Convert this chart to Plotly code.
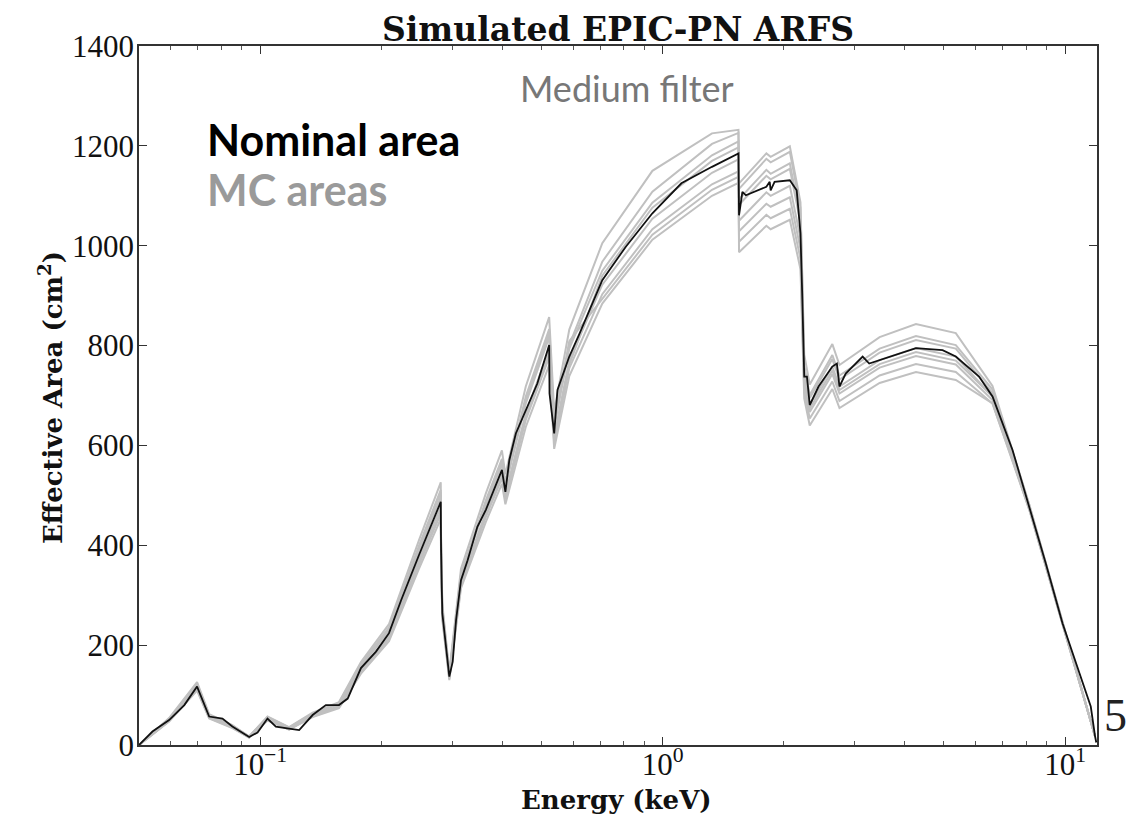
import plotly.graph_objects as go

# ---------------- data ----------------
energy_nominal = [0.050, 0.054, 0.0594, 0.0648, 0.0697, 0.0747, 0.0806, 0.0853, 0.0939, 0.0985,
                  0.1043, 0.1094, 0.118, 0.125, 0.135, 0.1456, 0.157, 0.165, 0.178, 0.194,
                  0.209, 0.224, 0.248, 0.265, 0.281, 0.2815, 0.2835, 0.2951, 0.3009, 0.3067,
                  0.3155, 0.3277, 0.3465, 0.3637, 0.3814, 0.3987, 0.4067, 0.4160, 0.4318, 0.4570,
                  0.4882, 0.5225, 0.5235, 0.5377, 0.5479, 0.5862, 0.620, 0.708, 0.810, 0.943,
                  1.113, 1.326, 1.543, 1.548, 1.578, 1.610, 1.810, 1.845, 1.855, 1.897,
                  2.070, 2.153, 2.200, 2.224, 2.248, 2.283, 2.320, 2.440, 2.640, 2.710,
                  2.750, 2.850, 3.140, 3.260, 3.460, 3.870, 4.260, 4.960, 5.350, 6.110,
                  6.600, 7.400, 8.140, 8.950, 9.850, 10.83, 11.58, 11.87, 11.95]
area_nominal = [0, 27, 50, 80, 117, 57, 53, 37, 16, 25,
                53, 37, 33, 30, 60, 80, 80, 93, 154, 187,
                224, 290, 380, 435, 487, 390, 264, 137, 167, 250,
                330, 370, 437, 471, 511, 551, 507, 571, 624, 671,
                724, 801, 704, 624, 711, 778, 822, 931, 998, 1065,
                1125, 1158, 1185, 1061, 1108, 1101, 1118, 1128, 1111, 1128,
                1131, 1111, 1025, 892, 738, 738, 681, 718, 758, 764,
                718, 744, 778, 764, 771, 785, 795, 791, 778, 738,
                698, 591, 477, 364, 244, 144, 77, 17, 5]

energy_mc = [0.050, 0.0594, 0.0697, 0.0747, 0.0853, 0.0939, 0.1043, 0.118, 0.135, 0.157,
             0.178, 0.209, 0.248, 0.281, 0.2815, 0.2835, 0.2951, 0.3155, 0.3637, 0.3987,
             0.4067, 0.4570, 0.5225, 0.5377, 0.5862, 0.708, 0.943, 1.326, 1.543, 1.548,
             1.810, 1.855, 2.070, 2.200, 2.248, 2.320, 2.640, 2.750, 3.460, 4.260,
             5.350, 6.600, 8.140, 9.850, 11.87]
mc_area_1 = [0, 54, 126, 62, 40, 17, 57, 36, 65, 86, 166, 242, 410, 526, 417, 282, 147, 353, 504, 590,
             542, 718, 857, 668, 832, 1005, 1150, 1225, 1232, 1114, 1174, 1167, 1188, 1076, 782, 722, 803, 761, 817, 843,
             825, 719, 482, 246, 17]
mc_area_2 = [0, 52, 122, 59, 38, 17, 55, 34, 62, 83, 160, 233, 395, 506, 402, 272, 141, 340, 485, 568,
             522, 691, 825, 643, 801, 968, 1108, 1204, 1226, 1125, 1185, 1178, 1199, 1087, 760, 701, 781, 740, 794, 819,
             801, 712, 482, 246, 17]
mc_area_3 = [0, 51, 119, 58, 38, 16, 54, 34, 61, 82, 157, 228, 388, 497, 398, 269, 140, 337, 480, 562,
             517, 684, 817, 636, 794, 950, 1086, 1181, 1209, 1082, 1140, 1133, 1154, 1046, 753, 695, 773, 732, 786, 811,
             794, 705, 477, 244, 17]
mc_area_4 = [0, 49, 115, 56, 36, 16, 52, 32, 59, 78, 151, 220, 372, 477, 386, 261, 136, 327, 466, 545,
             502, 664, 793, 618, 770, 922, 1054, 1146, 1173, 1050, 1107, 1100, 1120, 1015, 738, 681, 758, 718, 771, 795,
             778, 698, 477, 244, 17]
mc_area_5 = [0, 48, 112, 55, 36, 15, 51, 32, 58, 77, 148, 215, 365, 468, 378, 256, 133, 320, 457, 534,
             492, 651, 777, 605, 755, 903, 1033, 1123, 1149, 1029, 1084, 1078, 1097, 994, 723, 667, 743, 704, 756, 779,
             762, 691, 472, 242, 17]
mc_area_6 = [0, 47, 109, 53, 34, 15, 49, 31, 56, 74, 143, 208, 353, 453, 371, 251, 130, 314, 447, 523,
             482, 637, 761, 593, 739, 884, 1012, 1100, 1126, 1008, 1062, 1055, 1074, 974, 708, 654, 728, 689, 740, 763,
             747, 684, 472, 242, 17]
mc_area_7 = [0, 53, 123, 60, 39, 17, 56, 35, 63, 84, 162, 235, 399, 511, 382, 259, 134, 323, 462, 540,
             497, 658, 785, 612, 762, 940, 1076, 1170, 1197, 987, 1040, 1033, 1052, 953, 694, 640, 713, 675, 725, 747,
             731, 684, 475, 243, 17]
mc_area_8 = [0, 48, 111, 54, 35, 15, 50, 31, 57, 76, 146, 213, 361, 463, 406, 275, 142, 343, 490, 573,
             527, 698, 833, 649, 809, 894, 1022, 1112, 1138, 1093, 1152, 1144, 1165, 1056, 731, 674, 750, 711, 763, 787,
             770, 698, 477, 244, 17]
mc_areas = [mc_area_1, mc_area_2, mc_area_3, mc_area_4, mc_area_5, mc_area_6, mc_area_7, mc_area_8]

x_major_ticks = [0.1, 1, 10]
x_major_labels = ["10<sup>\u22121</sup>", "10<sup>0</sup>", "10<sup>1</sup>"]
x_minor_ticks = [0.06, 0.07, 0.08, 0.09, 0.2, 0.3, 0.4, 0.5, 0.6, 0.7, 0.8, 0.9,
                 2, 3, 4, 5, 6, 7, 8, 9]
y_ticks = [0, 200, 400, 600, 800, 1000, 1200, 1400]

# ---------------- figure ----------------
fig = go.Figure()
for mc in mc_areas:
    fig.add_trace(go.Scatter(x=energy_mc, y=mc, mode="lines",
                             line=dict(color="rgb(192,192,192)", width=2),
                             hoverinfo="skip", showlegend=False))
fig.add_trace(go.Scatter(x=energy_nominal, y=area_nominal, mode="lines",
                         line=dict(color="#111111", width=1.8),
                         showlegend=False))

# page body has an 8px margin: lay out in reference pixels, shifted by 8
OFF = 8
W, H = 1148 - OFF, 820 - OFF
L, T = 139 - OFF, 46 - OFF
R = W - (1097 - OFF)
B = H - (745 - OFF)
pw, ph = W - L - R, H - T - B

def px(x):
    return (x - OFF - L) / pw

def py(y):
    return (H - B - (y - OFF)) / ph

serif = "Liberation Serif"
bold_serif = "DejaVu Serif"
sans = "Lato"

fig.update_layout(
    width=W, height=H,
    margin=dict(l=L, r=R, t=T, b=B),
    plot_bgcolor="white", paper_bgcolor="white",
    xaxis=dict(type="log", range=[-1.30103, 1.07918],
               tickmode="array", tickvals=x_major_ticks, ticktext=x_major_labels,
               ticks="inside", ticklen=8, tickwidth=1.2, tickcolor="#333",
               minor=dict(tickmode="array", tickvals=x_minor_ticks, ticks="inside",
                          ticklen=4, tickwidth=1, tickcolor="#555", showgrid=False),
               showline=True, linecolor="#333", linewidth=1.5, mirror="allticks",
               showgrid=False, zeroline=False, ticklabelstandoff=-9,
               tickfont=dict(family=serif, size=31, color="#111")),
    yaxis=dict(range=[0, 1400], tickmode="array", tickvals=y_ticks,
               ticks="inside", ticklen=8, tickwidth=1.2, tickcolor="#333",
               showline=True, linecolor="#333", linewidth=1.5, mirror="allticks",
               showgrid=False, zeroline=False, ticklabelstandoff=-3,
               tickfont=dict(family=serif, size=31, color="#111")),
)

ann = [
    dict(text="<b>Simulated EPIC-PN ARFS</b>", x=px(618), y=py(29), font=dict(family=bold_serif, size=33, color="#111"),
         xanchor="center", yanchor="middle"),
    dict(text="<b>Energy (keV)</b>", x=px(616), y=py(800), font=dict(family=bold_serif, size=26, color="#111"),
         xanchor="center", yanchor="middle"),
    dict(text="<b>Effective Area (cm<sup>2</sup>)</b>", x=px(51), y=py(398), textangle=-90,
         font=dict(family=bold_serif, size=26, color="#111"), xanchor="center", yanchor="middle"),
    dict(text="Medium filter", x=px(627), y=py(88), font=dict(family=sans, size=36, color="#777777"),
         xanchor="center", yanchor="middle"),
    dict(text="<b>Nominal area</b>", x=px(205), y=py(139), font=dict(family=sans, size=43, color="#000000"),
         xanchor="left", yanchor="middle"),
    dict(text="<b>MC areas</b>", x=px(205), y=py(189), font=dict(family=sans, size=43, color="#9a9a9a"),
         xanchor="left", yanchor="middle"),
    dict(text="5", x=px(1115), y=py(715), font=dict(family=serif, size=46, color="#222"),
         xanchor="center", yanchor="middle"),
]
for a in ann:
    a.update(xref="paper", yref="paper", showarrow=False)
fig.update_layout(annotations=ann)

fig.write_html("out.html")
